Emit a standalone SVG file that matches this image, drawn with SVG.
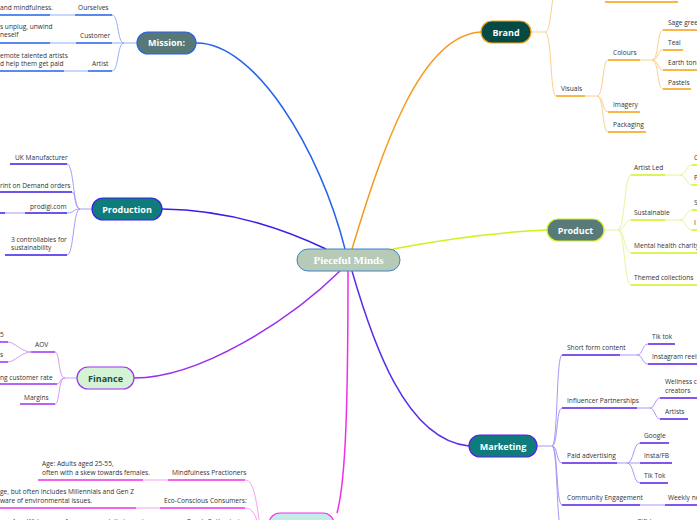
<svg xmlns="http://www.w3.org/2000/svg" width="697" height="520" viewBox="0 0 697 520">
<style>
text{font-family:"Open Sans","Noto Sans","DejaVu Sans",sans-serif;font-size:6.6px;fill:#333}
.nt{font-size:9px;font-weight:bold;fill:#fff;text-anchor:middle}
.c{fill:none}
.u{fill:none;stroke-width:1.6}
.l{fill:none;stroke-width:1}
.mb{stroke:#2563eb}.ml{stroke:#8fb0f7}
.pb{stroke:#3a1ee8}.pl{stroke:#a99cf5}
.fb{stroke:#a030f0}.fl{stroke:#d09cf7}
.bb{stroke:#f5a010}.bl{stroke:#fbd08a}
.rb{stroke:#d4f020}.rl{stroke:#e6f59a}
.kb{stroke:#5a1ee8}.kl{stroke:#ab96f5}
.ab{stroke:#f030e8}.al{stroke:#f7a0f2}
</style>
<rect width="697" height="520" fill="#fff"/>
<g id="connectors">
<!-- main -->
<path class="c" d="M196,43 C255,42 320,150 345,249" stroke="#2563eb" stroke-width="1.5"/>
<path class="c" d="M162,209 C235,210 290,232 326,249" stroke="#3a1ee8" stroke-width="1.5"/>
<path class="c" d="M134,378 C200,378 290,320 340,271" stroke="#9a2ef0" stroke-width="1.5"/>
<path class="c" d="M352,249 C382,150 420,35 481,32" stroke="#f59a1a" stroke-width="1.5"/>
<path class="c" d="M393,249 C440,240 500,232 547,230" stroke="#d4f01a" stroke-width="1.5"/>
<path class="c" d="M352,271 C372,340 405,440 469,446" stroke="#5b2ee8" stroke-width="1.5"/>
<path class="c" d="M348,271 C348,400 346,480 337,513" stroke="#f030e8" stroke-width="1.5"/>
<!-- mission -->
<path class="l ml" d="M137,43 H124 M124,43 C117,43 119,15 112,15 M124,43 H112 M124,43 C117,43 119,71 112,71 M50,15 H75 M50,43 H76 M64,71 H88"/>
<path class="u mb" d="M75,15 H112 M0,15 H50 M76,43 H112 M0,43 H50 M88,71 H112 M0,71 H64"/>
<!-- production -->
<path class="l pl" d="M92,209 H80 M80,209 C73,209 74,164 67,164 M80,209 C74,209 76,192 72,192 M80,209 C73,209 74,213 67,213 M80,209 C73,209 74,255 67,255 M5,213 H25"/>
<path class="u pb" d="M10,164 H67 M0,192 H72 M25,213 H67 M0,213 H5 M5,255 H67"/>
<!-- finance -->
<path class="l fl" d="M77,378 H65 M65,378 C58,378 60,352 55,352 M65,378 C59,378 61,384 57,384 M65,378 C58,378 60,404 55,404 M31,352 C22,352 14,342 8,342 M31,352 C22,352 14,362 8,362"/>
<path class="u fb" d="M31,352 H55 M0,342 H8 M0,362 H8 M0,384 H57 M20,404 H55"/>
<!-- audience -->
<path class="l al" d="M245,480 C254,480 256,500 260,525 M245,508 C252,508 256,515 258,525 M143,480 H168 M136,508 H160"/>
<path class="u ab" d="M168,480 H245 M38,480 H143 M160,508 H245 M0,508 H136"/>
<!-- brand -->
<path class="l bl" d="M531,32 H545 M545,32 C552,32 550,-5 556,-5 M545,32 C552,32 550,96 556,96 M585,96 H597 M597,96 C604,96 602,60 608,60 M597,96 C604,96 602,112 608,112 M597,96 C604,96 602,132 608,132 M640,60 H652 M652,60 C659,60 657,30 663,30 M652,60 C659,60 657,50 663,50 M652,60 C659,60 657,70 663,70 M652,60 C659,60 657,89 663,89"/>
<path class="u bb" d="M605,2 H678 M556,96 H585 M608,60 H640 M608,112 H640 M608,132 H646 M663,30 H697 M663,50 H683 M663,70 H697 M663,89 H691"/>
<!-- product -->
<path class="l rl" d="M604,230 H618 M618,230 C625,230 624,175 631,175 M618,230 C625,230 624,220 631,220 M618,230 C625,230 624,253 631,253 M618,230 C625,230 624,285 631,285 M665,175 H680 M680,175 C686,175 686,165 692,165 M680,175 C686,175 686,185 692,185 M665,220 H680 M680,220 C686,220 686,210 692,210 M680,220 C686,220 686,230 692,230"/>
<path class="u rb" d="M631,175 H665 M631,220 H665 M631,253 H697 M631,285 H697 M692,165 H697 M692,185 H697 M692,210 H697 M692,230 H697"/>
<!-- marketing -->
<path class="l kl" d="M537,446 H552 M552,446 C558,446 556,355 562,355 M552,446 C558,446 556,408 562,408 M552,446 C558,446 556,463 562,463 M552,446 C558,446 556,505 562,505 M552,446 C558,446 556,530 562,530 M620,355 H637 M637,355 C643,355 642,344 648,344 M637,355 C643,355 642,364 648,364 M637,408 H650 M650,408 C655,408 655,398 660,398 M650,408 C655,408 655,419 660,419 M617,463 H627 M627,463 C634,463 633,443 640,443 M627,463 H640 M627,463 C634,463 633,483 640,483 M640,505 H665"/>
<path class="u kb" d="M562,355 H620 M648,344 H675 M648,364 H697 M562,408 H637 M660,398 H697 M660,419 H688 M562,463 H617 M640,443 H669 M640,463 H672 M640,483 H668 M562,505 H640 M665,505 H697"/>
</g>
<g id="center">
<rect x="297" y="249" width="103" height="22" rx="11" fill="#b7c9b7" stroke="#3a86c8" stroke-width="1"/>
<text x="348.5" y="263.5" style="font-family:'Liberation Serif','DejaVu Serif',serif;font-size:11px;font-weight:bold;fill:#fff;text-anchor:middle">Pieceful Minds</text>
</g>
<g id="mission">
<rect x="137" y="32" width="59" height="22" rx="11" fill="#577876" stroke="#2563eb" stroke-width="1.2"/>
<text class="nt" x="166.5" y="46">Mission:</text>
<text x="78" y="10">Ourselves</text>
<text x="0" y="10">and mindfulness.</text>
<text x="80" y="38">Customer</text>
<text x="0" y="29">s unplug, unwind</text>
<text x="0" y="37">neself</text>
<text x="92" y="66">Artist</text>
<text x="0" y="58">emote talented artists</text>
<text x="0" y="66">d help them get paid</text>
</g>
<g id="production">
<rect x="92" y="198" width="70" height="22" rx="11" fill="#0e7c7b" stroke="#3a1ee8" stroke-width="1.2"/>
<text class="nt" x="127" y="212.5">Production</text>
<text x="15" y="159.5">UK Manufacturer</text>
<text x="0" y="188">rint on Demand orders</text>
<text x="30" y="208.5">prodigi.com</text>
<text x="11" y="242">3 controllables for</text>
<text x="11" y="250">sustainability</text>
</g>
<g id="finance">
<rect x="77" y="367" width="57" height="22" rx="11" fill="#d4f2d4" stroke="#a030f0" stroke-width="1.2"/>
<text class="nt" x="105.5" y="381.5" style="fill:#1d4a48">Finance</text>
<text x="35" y="347">AOV</text>
<text x="0" y="337">5</text>
<text x="0" y="357">s</text>
<text x="0" y="380">ng customer rate</text>
<text x="24" y="399.5">Margins</text>
</g>
<g id="audience">
<rect x="269" y="513" width="65" height="22" rx="11" fill="#c6ecea" stroke="#f030e8" stroke-width="1.2"/>
<text x="172" y="474.5">Mindfulness Practioners</text>
<text x="42" y="466">Age: Adults aged 25-55,</text>
<text x="42" y="474.5">often with a skew towards females.</text>
<text x="164" y="502.5">Eco-Conscious Consumers:</text>
<text x="0" y="494">ge, but often includes Millennials and Gen Z</text>
<text x="0" y="502.5">ware of environmental issues.</text>
<text x="187" y="524">Purely Enthusiasts</text>
<text x="12" y="524">Age: Wide range, from young adults to seniors</text>
</g>
<g id="brand">
<rect x="481" y="21" width="50" height="22" rx="11" fill="#064a46" stroke="#f5a010" stroke-width="1.2"/>
<text class="nt" x="506" y="35.5">Brand</text>
<text x="561" y="91">Visuals</text>
<text x="613" y="55">Colours</text>
<text x="613" y="107">Imagery</text>
<text x="613" y="127">Packaging</text>
<text x="668" y="25">Sage green</text>
<text x="668" y="45">Teal</text>
<text x="668" y="65">Earth tones</text>
<text x="668" y="85">Pastels</text>
</g>
<g id="product">
<rect x="547" y="219" width="57" height="22" rx="11" fill="#587a78" stroke="#d4f020" stroke-width="1.2"/>
<text class="nt" x="575.5" y="233.5">Product</text>
<text x="634" y="170">Artist Led</text>
<text x="694" y="160">C</text>
<text x="694" y="180">P</text>
<text x="634" y="215">Sustainable</text>
<text x="694" y="205">S</text>
<text x="694" y="225">I</text>
<text x="634" y="247.5">Mental health charity %</text>
<text x="634" y="280">Themed collections</text>
</g>
<g id="marketing">
<rect x="469" y="435" width="68" height="22" rx="11" fill="#0e7c7b" stroke="#5a1ee8" stroke-width="1.2"/>
<text class="nt" x="503" y="449.5">Marketing</text>
<text x="567" y="349.5">Short form content</text>
<text x="652" y="339">Tik tok</text>
<text x="652" y="359">Instagram reels</text>
<text x="567" y="403">Influencer Partnerships</text>
<text x="665" y="384">Wellness content</text>
<text x="665" y="393">creators</text>
<text x="665" y="413.5">Artists</text>
<text x="567" y="458">Paid advertising</text>
<text x="644" y="438">Google</text>
<text x="644" y="458">Insta/FB</text>
<text x="644" y="478">Tik Tok</text>
<text x="567" y="500">Community Engagement</text>
<text x="668" y="500">Weekly newsletter</text>
<text x="637" y="524">Gift boxes</text>
</g>
</svg>
